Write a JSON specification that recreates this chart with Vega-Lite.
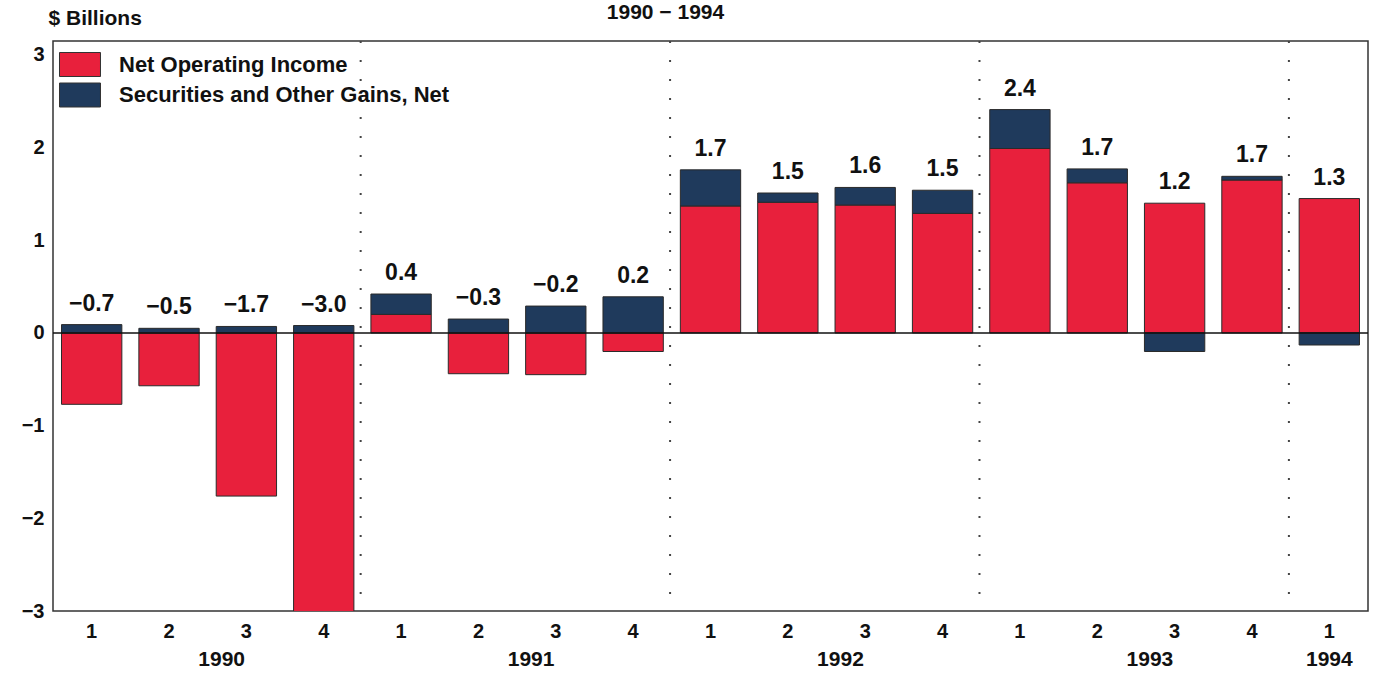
{
  "$schema": "https://vega.github.io/schema/vega-lite/v6.json",
  "autosize": {"type": "none"},
  "width": 1315,
  "height": 570,
  "padding": {"left": 53, "top": 41, "right": 7, "bottom": 62},
  "background": "white",
  "title": {
    "text": "1990 − 1994",
    "font": "Liberation Sans",
    "fontSize": 21,
    "fontWeight": "bold",
    "color": "#111",
    "anchor": "middle",
    "dx": -45,
    "baseline": "alphabetic",
    "offset": -33
  },
  "config": {
    "view": {"stroke": "#333", "strokeWidth": 1.5},
    "font": "Liberation Sans",
    "text": {"font": "Liberation Sans"}
  },
  "data": {
    "values": [
      {"period": "1990-1", "Net Operating Income": -0.77, "Securities and Other Gains, Net": 0.09, "total": -0.7},
      {"period": "1990-2", "Net Operating Income": -0.57, "Securities and Other Gains, Net": 0.05, "total": -0.5},
      {"period": "1990-3", "Net Operating Income": -1.76, "Securities and Other Gains, Net": 0.07, "total": -1.7},
      {"period": "1990-4", "Net Operating Income": -3.08, "Securities and Other Gains, Net": 0.08, "total": -3.0},
      {"period": "1991-1", "Net Operating Income": 0.20, "Securities and Other Gains, Net": 0.22, "total": 0.4},
      {"period": "1991-2", "Net Operating Income": -0.44, "Securities and Other Gains, Net": 0.15, "total": -0.3},
      {"period": "1991-3", "Net Operating Income": -0.45, "Securities and Other Gains, Net": 0.29, "total": -0.2},
      {"period": "1991-4", "Net Operating Income": -0.20, "Securities and Other Gains, Net": 0.39, "total": 0.2},
      {"period": "1992-1", "Net Operating Income": 1.37, "Securities and Other Gains, Net": 0.39, "total": 1.7},
      {"period": "1992-2", "Net Operating Income": 1.41, "Securities and Other Gains, Net": 0.10, "total": 1.5},
      {"period": "1992-3", "Net Operating Income": 1.38, "Securities and Other Gains, Net": 0.19, "total": 1.6},
      {"period": "1992-4", "Net Operating Income": 1.29, "Securities and Other Gains, Net": 0.25, "total": 1.5},
      {"period": "1993-1", "Net Operating Income": 1.99, "Securities and Other Gains, Net": 0.42, "total": 2.4},
      {"period": "1993-2", "Net Operating Income": 1.62, "Securities and Other Gains, Net": 0.15, "total": 1.7},
      {"period": "1993-3", "Net Operating Income": 1.40, "Securities and Other Gains, Net": -0.20, "total": 1.2},
      {"period": "1993-4", "Net Operating Income": 1.65, "Securities and Other Gains, Net": 0.04, "total": 1.7},
      {"period": "1994-1", "Net Operating Income": 1.45, "Securities and Other Gains, Net": -0.13, "total": 1.3}
    ]
  },
  "encoding": {
    "x": {
      "field": "period",
      "type": "nominal",
      "sort": null,
      "scale": {"paddingInner": 0.22, "paddingOuter": 0.11},
      "axis": {
        "title": null,
        "domain": false,
        "ticks": false,
        "labelAngle": 0,
        "labelExpr": "slice(datum.label, -1)",
        "labelFont": "Liberation Sans",
        "labelFontSize": 20,
        "labelFontWeight": "bold",
        "labelColor": "#111",
        "labelPadding": 10
      }
    }
  },
  "layer": [
    {
      "transform": [
        {"fold": ["Net Operating Income", "Securities and Other Gains, Net"], "as": ["series", "value"]}
      ],
      "mark": {"type": "bar", "clip": true, "stroke": "#2a2a2a", "strokeWidth": 1},
      "encoding": {
        "y": {
          "field": "value",
          "type": "quantitative",
          "stack": "zero",
          "scale": {"domain": [-3, 3.15], "nice": false, "zero": false},
          "axis": {
            "values": [-3, -2, -1, 0, 1, 2, 3],
            "format": "d",
            "grid": false,
            "domain": false,
            "ticks": false,
            "labelFont": "Liberation Sans",
            "labelFontSize": 20,
            "labelFontWeight": "bold",
            "labelColor": "#111",
            "labelPadding": 9,
            "title": "$ Billions",
            "titleAngle": 0,
            "titleAlign": "left",
            "titleBaseline": "alphabetic",
            "titleX": -5,
            "titleY": -17,
            "titleFont": "Liberation Sans",
            "titleFontSize": 21,
            "titleFontWeight": "bold",
            "titleColor": "#111"
          }
        },
        "order": {"field": "series", "type": "nominal", "sort": "ascending"},
        "color": {
          "field": "series",
          "type": "nominal",
          "scale": {
            "domain": ["Net Operating Income", "Securities and Other Gains, Net"],
            "range": ["#e8203c", "#1f3a5c"]
          },
          "legend": {
            "title": null,
            "orient": "none",
            "legendX": 14.5,
            "legendY": 11,
            "symbolType": "M-1.708,-1H1.708V1H-1.708Z",
            "symbolSize": 576,
            "symbolStrokeWidth": 1,
            "symbolStrokeColor": "#333",
            "symbolOpacity": 1,
            "labelFont": "Liberation Sans",
            "labelFontSize": 22,
            "labelFontWeight": "bold",
            "labelColor": "#111",
            "labelOffset": 26.5,
            "rowPadding": 1.5,
            "labelLimit": 600
          }
        }
      }
    },
    {
      "data": {"values": [{}]},
      "mark": {"type": "rule", "color": "#111", "strokeWidth": 1.5},
      "encoding": {"y": {"datum": 0}, "x": null}
    },
    {
      "data": {"values": [{"start": "1991-1"}, {"start": "1992-1"}, {"start": "1993-1"}, {"start": "1994-1"}]},
      "mark": {"type": "rule", "color": "#444", "strokeWidth": 2, "strokeDash": [2, 17]},
      "encoding": {"x": {"field": "start", "type": "nominal", "bandPosition": -0.17}}
    },
    {
      "transform": [
        {"fold": ["Net Operating Income", "Securities and Other Gains, Net"], "as": ["series", "value"]},
        {"filter": "datum.value > 0"},
        {"aggregate": [{"op": "sum", "field": "value", "as": "top"}], "groupby": ["period", "total"]}
      ],
      "mark": {"type": "text", "fontSize": 23, "fontWeight": "bold", "color": "#111", "baseline": "alphabetic", "dy": -14},
      "encoding": {
        "y": {"field": "top", "type": "quantitative"},
        "text": {"field": "total", "type": "quantitative", "format": ".1f"}
      }
    },
    {
      "data": {"values": [{"year": "1990", "mid": "1990-2"}, {"year": "1991", "mid": "1991-2"}, {"year": "1992", "mid": "1992-2"}, {"year": "1993", "mid": "1993-2"}]},
      "mark": {"type": "text", "fontSize": 21, "fontWeight": "bold", "color": "#111", "baseline": "middle", "dx": 14, "dy": 49},
      "encoding": {
        "x": {"field": "mid", "type": "nominal", "bandPosition": 1.14},
        "y": {"datum": -3},
        "text": {"field": "year"}
      }
    },
    {
      "data": {"values": [{"year": "1994", "mid": "1994-1"}]},
      "mark": {"type": "text", "fontSize": 21, "fontWeight": "bold", "color": "#111", "baseline": "middle", "dy": 49},
      "encoding": {
        "x": {"field": "mid", "type": "nominal"},
        "y": {"datum": -3},
        "text": {"field": "year"}
      }
    }
  ]
}
